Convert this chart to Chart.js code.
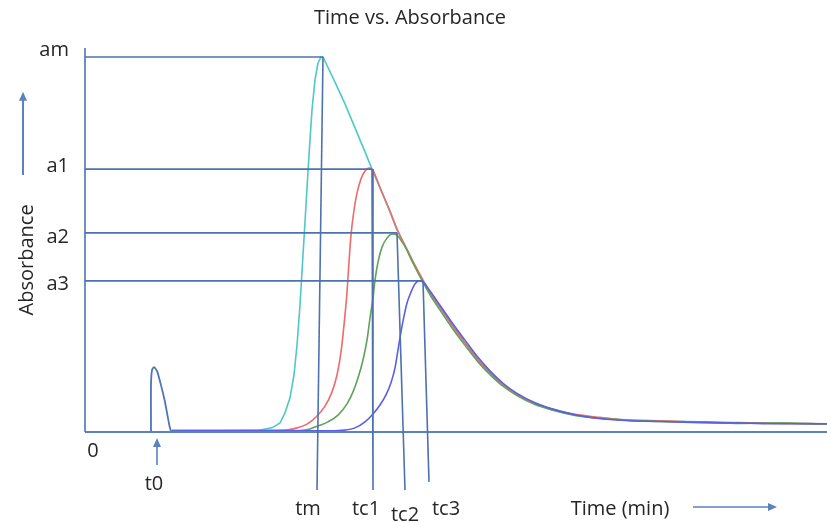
<!DOCTYPE html>
<html>
<head>
<meta charset="utf-8">
<title>Time vs. Absorbance</title>
<script src="https://cdn.jsdelivr.net/npm/chart.js@4.4.0/dist/chart.umd.min.js"></script>
<style>
  html, body { margin: 0; padding: 0; background: #fff; }
  canvas { display: block; }
</style>
</head>
<body>
<canvas id="chart" width="827" height="523"></canvas>
<script>
// absorbance curves, time in min / absorbance (am = 1)
const cyanT = [8.7, 13.5, 17.5, 18.7, 19.5, 20.0, 20.5, 20.9, 21.2, 21.5, 21.8, 22.1, 22.4, 22.7, 23.0, 23.3, 23.6, 23.8,
  25.0, 26.0, 27.0, 28.0, 28.7, 29.5, 30.5, 31.2, 32.0, 32.8, 33.8, 34.5, 35.5, 36.8, 38.0, 39.3, 40.5, 41.8, 43.2,
  45.0, 46.8, 49.0, 51.5, 54.5, 57.5, 61.5, 65.5, 69.5, 74.2];
const cyanA = [0.004, 0.004, 0.005, 0.011, 0.024, 0.051, 0.091, 0.152, 0.232, 0.339, 0.472, 0.605, 0.739, 0.859, 0.939, 0.984, 1.0, 1.0,
  0.933, 0.875, 0.811, 0.747, 0.701, 0.651, 0.587, 0.539, 0.496, 0.453, 0.403, 0.371, 0.331, 0.280, 0.237, 0.192, 0.157, 0.125, 0.099,
  0.075, 0.059, 0.045, 0.037, 0.032, 0.029, 0.027, 0.024, 0.024, 0.021];

const redT = [8.7, 15.5, 20.0, 21.2, 22.2, 23.1, 24.0, 24.7, 25.2, 25.6, 25.9, 26.2, 26.4, 26.6, 26.9, 27.2, 27.6, 28.0, 28.4, 28.7,
  29.5, 30.5, 31.2, 32.0, 32.8, 33.8, 34.5, 35.5, 36.8, 38.0, 39.3, 40.5, 41.8, 43.2, 45.0, 46.8, 49.0, 51.5, 54.5, 57.5, 61.5, 65.5, 69.5, 74.2];
const redA = [0.004, 0.004, 0.005, 0.011, 0.021, 0.040, 0.069, 0.107, 0.152, 0.213, 0.285, 0.373, 0.453, 0.525, 0.592, 0.637, 0.675, 0.696, 0.704, 0.701,
  0.652, 0.589, 0.541, 0.498, 0.455, 0.405, 0.373, 0.333, 0.282, 0.238, 0.193, 0.158, 0.126, 0.100, 0.077, 0.060, 0.047, 0.039, 0.031, 0.030, 0.026, 0.025, 0.023, 0.022];

const greenT = [8.7, 17.5, 21.5, 22.5, 23.3, 24.3, 25.3, 26.2, 26.8, 27.3, 27.8, 28.2, 28.5, 28.8, 29.0, 29.3, 29.7, 30.2, 30.7, 31.2, 31.7,
  32.0, 32.8, 33.8, 34.5, 35.5, 36.8, 38.0, 39.3, 40.5, 41.8, 43.2, 45.0, 46.8, 49.0, 51.5, 54.5, 57.5, 61.5, 65.5, 69.5, 74.2];
const greenA = [0.004, 0.004, 0.004, 0.008, 0.016, 0.027, 0.045, 0.075, 0.107, 0.144, 0.192, 0.245, 0.304, 0.357, 0.405, 0.453, 0.493, 0.517, 0.528, 0.525, 0.507,
  0.495, 0.450, 0.399, 0.366, 0.325, 0.274, 0.231, 0.187, 0.153, 0.122, 0.097, 0.073, 0.058, 0.044, 0.036, 0.031, 0.028, 0.027, 0.023, 0.024, 0.021];

const blueT = [8.7, 21.5, 24.5, 26.0, 27.0, 28.0, 28.8, 29.5, 30.1, 30.6, 31.0, 31.3, 31.6, 31.9, 32.2, 32.6, 33.0, 33.4, 33.8,
  34.5, 35.5, 36.8, 38.0, 39.3, 40.5, 41.8, 43.2, 45.0, 46.8, 49.0, 51.5, 54.5, 57.5, 61.5, 65.5, 69.5, 74.2];
const blueA = [0.003, 0.003, 0.003, 0.005, 0.011, 0.027, 0.048, 0.072, 0.099, 0.131, 0.171, 0.219, 0.267, 0.309, 0.344, 0.373, 0.395, 0.403, 0.400,
  0.376, 0.338, 0.288, 0.245, 0.199, 0.163, 0.130, 0.103, 0.078, 0.061, 0.046, 0.036, 0.030, 0.028, 0.025, 0.024, 0.022, 0.022];

// injection pulse at t0
const pulseT = [6.6, 6.6, 6.7, 6.9, 7.2, 7.6, 8.0, 8.3, 8.6, 9.3];
const pulseA = [0, 0.125, 0.165, 0.173, 0.163, 0.125, 0.080, 0.037, 0.003, 0.003];

// peak levels and the times they are reached
const levelLabels = ['am', 'a1', 'a2', 'a3'];
const levelValues = [1.0, 0.701, 0.531, 0.403];
const timeLabels = ['tm', 'tc1', 'tc2', 'tc3'];
const peakTimes = [23.8, 28.7, 31.2, 33.8];
const dropTimes = [23.2, 28.8, 32.0, 34.4];
const dropEnds = [-0.155, -0.155, -0.155, -0.133];

const t0 = 6.6;
const axisTop = 1.024;
const axisEnd = 74.2;

const guideColor = '#4d72ae';
const arrowColor = '#5b82bd';
const textColor = '#262626';
const font = '500 20px "Open Sans", "Liberation Sans", sans-serif';

const pts = (ts, as) => ts.map((t, i) => ({ x: t, y: as[i] }));

const guides = [];
levelValues.forEach((a, i) => {
  guides.push({ data: [{ x: 0, y: a }, { x: peakTimes[i], y: a }] });
  guides.push({ data: [{ x: peakTimes[i], y: a }, { x: dropTimes[i], y: dropEnds[i] }] });
});
guides.push({ data: [{ x: 0, y: 0 }, { x: 0, y: axisTop }] });

const curve = (data, color) => ({
  data, borderColor: color, borderWidth: 1.6, cubicInterpolationMode: 'monotone', order: 2
});

const datasets = [
  ...guides.map(g => ({ ...g, borderColor: guideColor, borderWidth: 1.6, order: 1 })),
  { data: [{ x: 0, y: 0 }, { x: axisEnd, y: 0 }], borderColor: '#5a82bf', borderWidth: 2.2, order: 1 },
  { data: pts(pulseT, pulseA), borderColor: '#4f74b8', borderWidth: 1.8, tension: 0.2, order: 2 },
  curve(pts(blueT, blueA), '#5b5fe0'),
  curve(pts(greenT, greenA), '#5fa35b'),
  curve(pts(redT, redA), '#ee6b6b'),
  // sharp apex at am
  { data: pts(cyanT, cyanA), borderColor: '#4fc8c6', borderWidth: 1.6, tension: 0, order: 2 }
];

// arrows and text placed in data units
const arrows = [
  { from: [-6.2, 0.685], to: [-6.2, 0.907], width: 2 },
  { from: [7.2, -0.088], to: [7.2, -0.016], width: 1.6 },
  { from: [60.8, -0.2], to: [69.2, -0.2], width: 1.6 }
];

const annotations = {
  id: 'annotations',
  afterDatasetsDraw(chart) {
    const { ctx, scales: { x, y } } = chart;
    ctx.save();
    ctx.strokeStyle = arrowColor;
    ctx.fillStyle = arrowColor;
    arrows.forEach(a => {
      const x1 = x.getPixelForValue(a.from[0]), y1 = y.getPixelForValue(a.from[1]);
      const x2 = x.getPixelForValue(a.to[0]), y2 = y.getPixelForValue(a.to[1]);
      const ang = Math.atan2(y2 - y1, x2 - x1);
      const c = Math.cos(ang), s = Math.sin(ang);
      ctx.lineWidth = a.width;
      ctx.beginPath();
      ctx.moveTo(x1, y1);
      ctx.lineTo(x2 - 5 * c, y2 - 5 * s);
      ctx.stroke();
      ctx.beginPath();
      ctx.moveTo(x2, y2);
      ctx.lineTo(x2 - 9 * c + 4 * s, y2 - 9 * s - 4 * c);
      ctx.lineTo(x2 - 9 * c - 4 * s, y2 - 9 * s + 4 * c);
      ctx.closePath();
      ctx.fill();
    });

    ctx.fillStyle = textColor;
    ctx.font = font;
    ctx.textBaseline = 'alphabetic';

    ctx.textAlign = 'center';
    ctx.fillText('Time vs. Absorbance', x.getPixelForValue(32.5), y.getPixelForValue(1.088));

    ctx.textAlign = 'right';
    const levelOffsets = [0.003, -0.008, -0.027, -0.024];
    levelLabels.forEach((l, i) => {
      ctx.fillText(l, x.getPixelForValue(-1.6), y.getPixelForValue(levelValues[i] + levelOffsets[i]));
    });

    ctx.textAlign = 'center';
    ctx.fillText('0', x.getPixelForValue(0.8), y.getPixelForValue(-0.067));
    ctx.fillText('t0', x.getPixelForValue(t0 + 0.3), y.getPixelForValue(-0.155));
    const labelX = [22.3, 28.1, 32.0, 36.1];
    const labelY = [-0.221, -0.221, -0.237, -0.221];
    timeLabels.forEach((l, i) => {
      ctx.fillText(l, x.getPixelForValue(labelX[i]), y.getPixelForValue(labelY[i]));
    });
    ctx.fillText('Time (min)', x.getPixelForValue(53.5), y.getPixelForValue(-0.221));

    ctx.translate(x.getPixelForValue(-5.2), y.getPixelForValue(0.459));
    ctx.rotate(-Math.PI / 2);
    ctx.fillText('Absorbance', 0, 0);
    ctx.restore();
  }
};

new Chart(document.getElementById('chart'), {
  type: 'line',
  data: { datasets },
  options: {
    responsive: false,
    animation: false,
    layout: { padding: 0 },
    elements: { point: { radius: 0 }, line: { fill: false } },
    scales: {
      x: { type: 'linear', min: -8.5, max: 74.2, display: false },
      y: { type: 'linear', min: -0.2427, max: 1.152, display: false }
    },
    plugins: { legend: { display: false }, tooltip: { enabled: false } }
  },
  plugins: [annotations]
});
</script>
</body>
</html>
